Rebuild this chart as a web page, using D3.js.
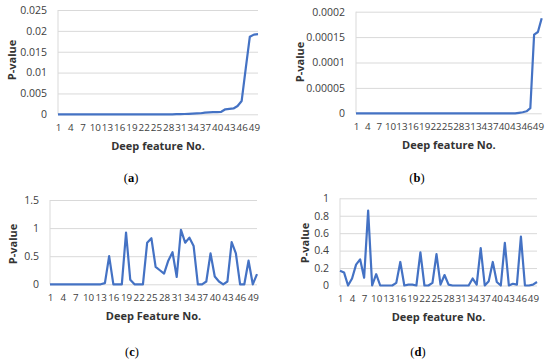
<!DOCTYPE html>
<html>
<head>
<meta charset="utf-8">
<script src="https://cdn.jsdelivr.net/npm/d3@7"></script>
<style>
  body { margin: 0; background: #fff; }
  svg { display: block; }
  .tick text { font-family: "Open Sans", sans-serif; font-size: 10.5px; fill: #404040; }
  .xax .tick text { font-size: 9.8px; }
  .ttl { font-family: "Open Sans", sans-serif; font-size: 11px; font-weight: bold; fill: #333; }
  .cap { font-family: "Liberation Serif", serif; font-size: 12.5px; fill: #000; }
</style>
</head>
<body>
<div id="chart"></div>
<script>
// feature numbers on the x axis
var featureNo = d3.range(1, 51);

// p-values
var pA = [0,0,0,0,0,0,0,0,0,0, 0,0,0,0,0,0,0,0,0,0, 0,0,0,0,0,0,0,0,0,0.00003,
          0.00005,0.00007,0.0001,0.00015,0.0002,0.00025,0.0004,0.00045,0.0005,0.0005,
          0.0006,0.0012,0.0013,0.0014,0.002,0.0032,0.011,0.0186,0.0191,0.0192];
var pB = [0,0,0,0,0,0,0,0,0,0, 0,0,0,0,0,0,0,0,0,0, 0,0,0,0,0,0,0,0,0,0,
          0,0,0,0,0,0,0,0,0,0, 0,0,0,0.000001,0.000002,0.000004,0.00001,0.000155,0.00016,0.000187];
var pC = [0,0,0,0,0,0,0,0,0,0, 0,0,0,0.02,0.5,0,0,0,0.92,0.08,
          0,0,0,0.74,0.82,0.31,0.25,0.19,0.42,0.57,
          0.13,0.97,0.74,0.83,0.68,0,0,0.05,0.55,0.14,
          0.05,0,0.05,0.75,0.55,0,0,0.42,0,0.18];
var pD = [0.17,0.15,0,0.08,0.24,0.3,0.09,0.86,0,0.13,
          0,0,0,0,0.03,0.27,0,0.01,0.01,0,
          0.38,0,0,0.03,0.36,0.01,0.12,0.01,0,0,
          0,0,0,0.08,0.01,0.43,0,0.05,0.27,0.04,
          0,0.49,0,0.02,0.01,0.56,0,0,0.01,0.04];

// y tick values
var yTicksA = [0, 0.005, 0.01, 0.015, 0.02, 0.025];
var yTicksB = [0, 0.00005, 0.0001, 0.00015, 0.0002];
var yTicksC = [0, 0.5, 1, 1.5];
var yTicksD = [0, 0.2, 0.4, 0.6, 0.8, 1];

var xTitles = ["Deep feature No.", "Deep feature No.", "Deep Feature No.", "Deep feature No."];
var captions = ["a", "b", "c", "d"];

var svg = d3.select("#chart").append("svg")
    .attr("width", 550)
    .attr("height", 361);

var panels = [
  {values: pA, ticks: yTicksA, left: 58, right: 258, top: 10, bottom: 114.3, ytx: 12, yty: 60, capx: 131, capy: 178},
  {values: pB, ticks: yTicksB, left: 356, right: 541.7, top: 11.7, bottom: 113.3, ytx: 300, yty: 62, capx: 417, capy: 178},
  {values: pC, ticks: yTicksC, left: 50, right: 257, top: 200, bottom: 284.3, ytx: 13, yty: 244, capx: 132, capy: 352},
  {values: pD, ticks: yTicksD, left: 340, right: 537, top: 198.3, bottom: 285.5, ytx: 305, yty: 243, capx: 418, capy: 352}
];

panels.forEach(function(p, k) {
  var x = d3.scalePoint().domain(featureNo).range([p.left, p.right]);
  var y = d3.scaleLinear().domain([0, p.ticks[p.ticks.length - 1]]).range([p.bottom, p.top]);
  var g = svg.append("g");

  // gridlines
  g.append("g")
    .attr("transform", "translate(" + p.left + ",0)")
    .call(d3.axisLeft(y).tickValues(p.ticks).tickSize(-(p.right - p.left)).tickFormat(""))
    .call(function(s) { s.select(".domain").remove(); })
    .selectAll("line").attr("stroke", "#d9d9d9").attr("stroke-width", 1);

  // left axis line
  g.append("line")
    .attr("x1", p.left).attr("x2", p.left)
    .attr("y1", p.top).attr("y2", p.bottom)
    .attr("stroke", "#d9d9d9");

  // y tick labels
  g.append("g")
    .attr("transform", "translate(" + (p.left - 8) + ",0)")
    .call(d3.axisLeft(y).tickValues(p.ticks).tickSize(0).tickFormat(function(d) { return String(d); }))
    .call(function(s) { s.select(".domain").remove(); });

  // x tick labels, every third feature
  g.append("g")
    .attr("class", "xax")
    .attr("transform", "translate(0," + (p.bottom + 7) + ")")
    .call(d3.axisBottom(x).tickValues(featureNo.filter(function(d) { return (d - 1) % 3 == 0; })).tickSize(0))
    .call(function(s) { s.select(".domain").remove(); });

  g.append("path")
    .datum(p.values)
    .attr("fill", "none")
    .attr("stroke", "#4472c4")
    .attr("stroke-width", 2.2)
    .attr("stroke-linejoin", "round")
    .attr("d", d3.line()
      .x(function(d, i) { return x(featureNo[i]); })
      .y(function(d) { return y(d); }));

  // axis titles
  g.append("text")
    .attr("class", "ttl")
    .attr("transform", "translate(" + p.ytx + "," + p.yty + ") rotate(-90)")
    .attr("text-anchor", "middle")
    .attr("dy", "0.35em")
    .text("P-value");

  g.append("text")
    .attr("class", "ttl")
    .attr("x", (p.left + p.right) / 2)
    .attr("y", p.bottom + 32)
    .attr("text-anchor", "middle")
    .attr("dy", "0.35em")
    .text(xTitles[k]);

  // caption (a), (b) ...
  var cap = g.append("text")
    .attr("class", "cap")
    .attr("x", p.capx)
    .attr("y", p.capy)
    .attr("text-anchor", "middle")
    .attr("dy", "0.35em");
  cap.append("tspan").text("(");
  cap.append("tspan").attr("font-weight", "bold").text(captions[k]);
  cap.append("tspan").text(")");
});
</script>
</body>
</html>
